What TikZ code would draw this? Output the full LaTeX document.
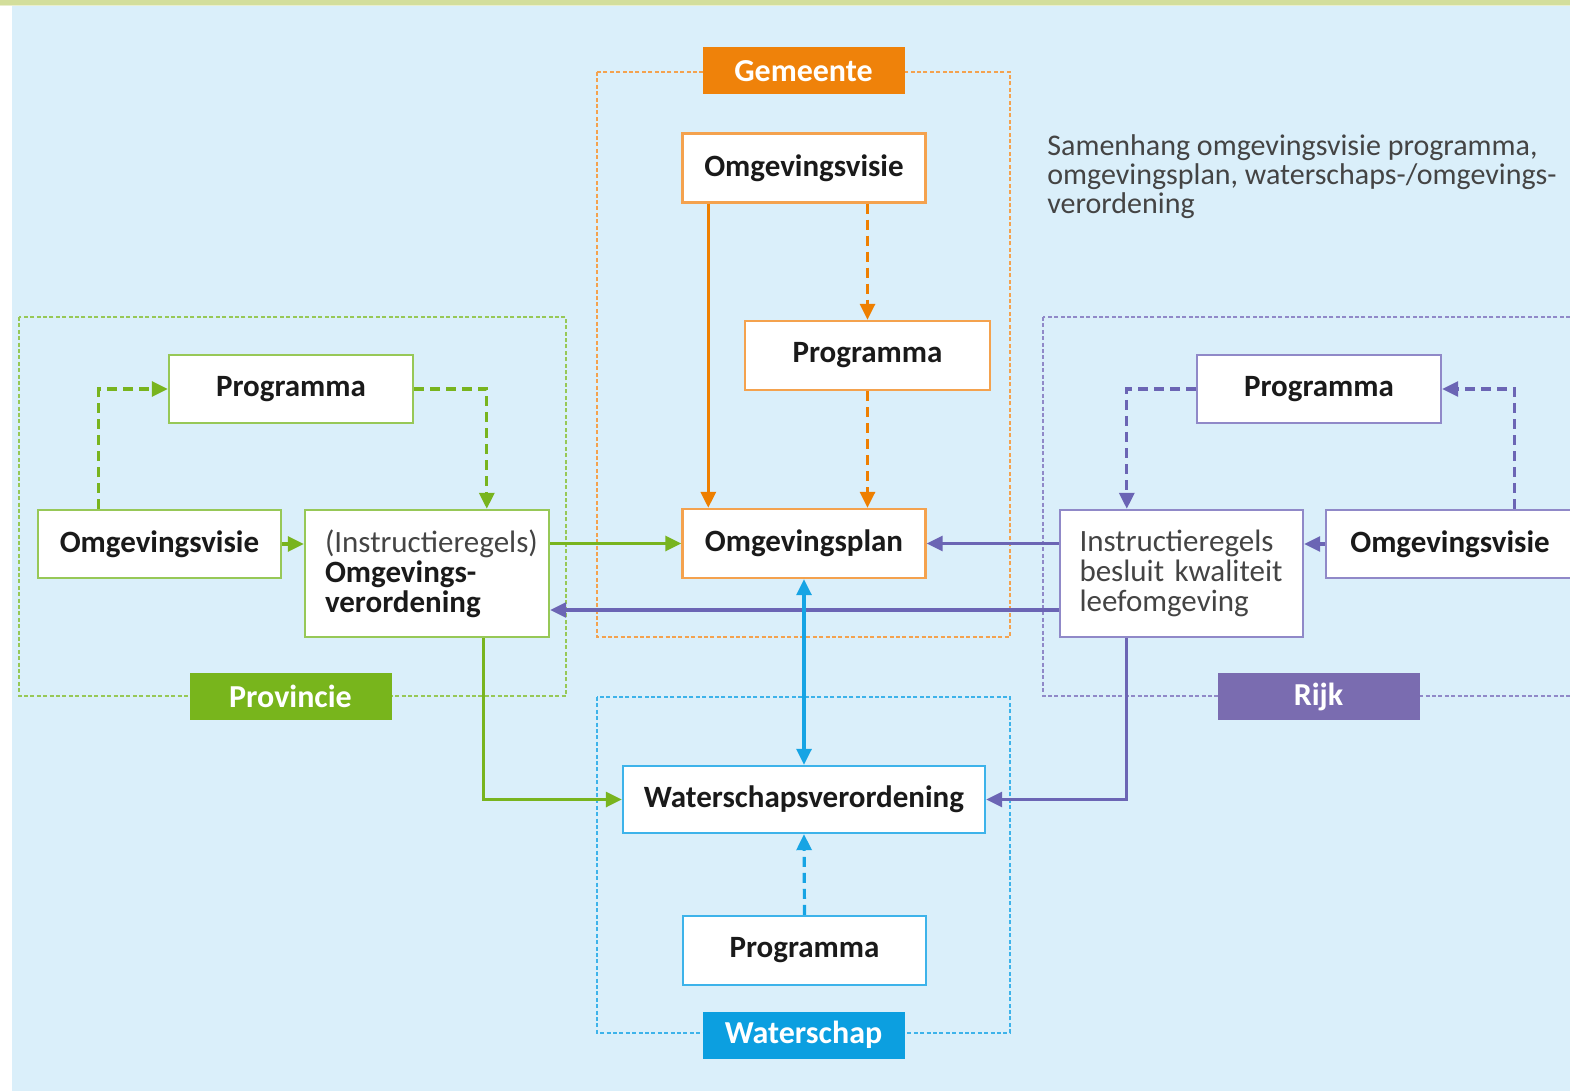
\documentclass[tikz,border=0pt]{standalone}
\usepackage{fontspec}
\setmainfont{Carlito}
\usetikzlibrary{arrows.meta,calc}
\definecolor{bg}{HTML}{DAEFFA}
\definecolor{topstrip}{HTML}{D3DE9B}
\definecolor{txt}{HTML}{1A1A1A}
\definecolor{gtxt}{HTML}{444444}
\definecolor{orA}{HTML}{EE7F00}
\definecolor{orB}{HTML}{F4A24E}
\definecolor{orL}{HTML}{EF820A}
\definecolor{grA}{HTML}{78B41E}
\definecolor{grB}{HTML}{97C857}
\definecolor{grL}{HTML}{78B51C}
\definecolor{puA}{HTML}{6B65B4}
\definecolor{puB}{HTML}{9089C8}
\definecolor{puL}{HTML}{7A6CB0}
\definecolor{blA}{HTML}{16A4E4}
\definecolor{blB}{HTML}{3DB3EA}
\definecolor{blL}{HTML}{0C9FE0}
\tikzset{
  boxnode/.style={draw=#1, fill=white, line width=1.2pt, inner sep=0pt,
    font=\fontsize{15.5}{15}\selectfont\bfseries, text=txt,
    minimum width=121.5pt, minimum height=34.5pt},
  tallbox/.style={boxnode=#1, minimum height=63.5pt, text width=102pt, align=left,
    font=\fontsize{15.5}{15}\selectfont},
  labelnode/.style={fill=#1, inner sep=0pt, text=white,
    font=\fontsize{16}{16}\selectfont\bfseries,
    minimum width=101pt, minimum height=23.5pt},
  frame/.style={draw=#1, line width=0.8pt, dash pattern=on 2pt off 1.2pt},
  arr/.style={draw=#1, line width=1.6pt, -{Triangle[length=8pt,width=7.5pt]}},
  darr/.style={arr=#1, dash pattern=on 5pt off 3pt},
  biarr/.style={draw=#1, line width=1.6pt, {Triangle[length=8pt,width=7.5pt]}-{Triangle[length=8pt,width=7.5pt]}}
}
\begin{document}
\begin{tikzpicture}[x=0.5pt,y=-0.5pt]
\useasboundingbox (0,0) rectangle (1570,1091);
% background
\fill[white] (0,0) rectangle (1570,1091);
\fill[bg] (12,6) rectangle (1570,1091);
\fill[topstrip] (0,0) rectangle (1570,5);
\fill[topstrip!50!white] (0,5) rectangle (1570,6.5);

% frames
\draw[frame=orB] (597,72) rectangle (1010,637);
\draw[frame=grB] (19,317) rectangle (566,696);
\draw[frame=puB] (1043,317) rectangle (1590,696);
\draw[frame=blB] (597,697) rectangle (1010,1033);

% labels
\node[labelnode=orL] (lgem) at (803.5,71) {Gemeente};
\node[labelnode=grL] (lprov) at (290.5,696.5) {Provincie};
\node[labelnode=puL] (lrijk) at (1318.5,696.5) {Rijk};
\node[labelnode=blL] (lwat) at (803.5,1035) {Waterschap};

% title
\node[anchor=north west, inner sep=0pt, align=left, text=gtxt,
  font=\fontsize{15}{14.5}\selectfont] (title) at (1047,134)
  {Samenhang omgevingsvisie programma,\\omgevingsplan, waterschaps-/omgevings-\\verordening};

% Gemeente
\node[boxnode=orB] (gv) at (804,168) {Omgevingsvisie};
\node[boxnode=orB, minimum width=122.5pt] (gp) at (867.5,355.5) {Programma};
\node[boxnode=orB] (gplan) at (804,543.5) {Omgevingsplan};

% Provincie
\node[boxnode=grB, minimum width=122pt, minimum height=34pt] (pp) at (291,389) {Programma};
\node[boxnode=grB, minimum height=34pt] (pv) at (159.5,544) {Omgevingsvisie};
\node[tallbox=grB, minimum width=122pt] (pverord) at (427,573.5)
  {\textcolor{gtxt}{(Instructieregels)}\\\textbf{Omgevings-}\\\textbf{verordening}};

% Rijk
\node[boxnode=puB, minimum width=122pt, minimum height=34pt] (rp) at (1319,389) {Programma};
\node[tallbox=puB, text=gtxt] (rinstr) at (1181.5,573.5)
  {Instructieregels\\besluit kwaliteit\\leefomgeving};
\node[boxnode=puB, minimum width=124pt, minimum height=34pt] (rv) at (1450,544) {Omgevingsvisie};

% Waterschap
\node[boxnode=blB, minimum width=181pt, minimum height=33.5pt] (wv) at (804,799.5) {Waterschapsverordening};
\node[boxnode=blB] (wp) at (804.5,950.5) {Programma};

% helper coordinates
\coordinate (rlow) at ($(rinstr.west)+(0,36.5)$);

% Gemeente connectors
\draw[arr=orA] ($(gv.south west)+(27,0)$) -- ($(gplan.north west)+(27,0)$);
\draw[darr=orA] (gv.south -| gp.north) -- (gp.north);
\draw[darr=orA] (gp.south) -- (gp.south |- gplan.north);

% Provincie connectors
\draw[darr=grA] ($(pv.north west)+(62,0)$) |- (pp.west);
\draw[darr=grA] (pp.east) -| ($(pverord.north west)+(183,0)$);
\draw[arr=grA] (pv.east) -- (pv.east -| pverord.west);
\draw[arr=grA] (pverord.east |- gplan.west) -- (gplan.west);
\draw[arr=grA] ($(pverord.south west)+(180,0)$) |- (wv.west);

% Rijk connectors
\draw[darr=puA] ($(rv.north west)+(190,0)$) |- (rp.east);
\draw[darr=puA] (rp.west) -| ($(rinstr.north west)+(68,0)$);
\draw[arr=puA] (rv.west) -- (rv.west -| rinstr.east);
\draw[arr=puA] (rinstr.west |- gplan.east) -- (gplan.east);
\draw[arr=puA] (rlow) -- (rlow -| pverord.east);
\draw[arr=puA] ($(rinstr.south west)+(68,0)$) |- (wv.east);

% Waterschap connectors
\draw[biarr=blA] (gplan.south) -- (wv.north);
\draw[darr=blA] (wp.north) -- (wv.south);
\end{tikzpicture}
\end{document}
